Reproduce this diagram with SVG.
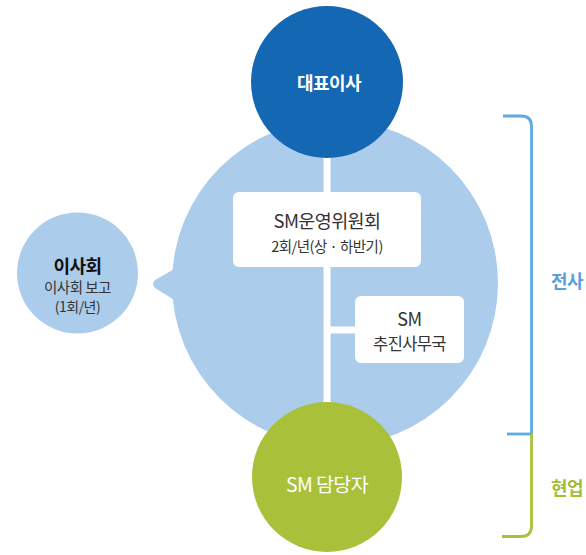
<svg xmlns="http://www.w3.org/2000/svg" width="586" height="555" viewBox="0 0 586 555">
<style>
text{font-family:"Noto Sans CJK KR","Noto Sans",sans-serif;text-anchor:middle}
.box{fill:#ffffff}
.dark{fill:#333333}
.wt{fill:#ffffff}
.conn{stroke:#ffffff;stroke-width:7;fill:none}
.bl{stroke:#5eabe3;stroke-width:2.8;fill:none}
.gl{stroke:#a9c13a;stroke-width:2.8;fill:none}
</style>
<rect width="586" height="555" fill="#ffffff"/>
<g id="company-area">
<circle cx="335" cy="283" r="163" fill="#abcdeb"/>
<path d="M176 268 L155 280 Q151 284 155 288 L176 301 Z" fill="#abcdeb"/>
</g>
<g id="connectors">
<line class="conn" x1="327" y1="150" x2="327" y2="410"/>
<line class="conn" x1="327" y1="330" x2="358" y2="330"/>
</g>
<g id="sm-committee">
<rect class="box" x="233" y="192" width="188" height="75" rx="6"/>
<text x="327" y="228" font-size="18.5" letter-spacing="-0.6" class="dark">SM운영위원회</text>
<text x="327" y="252" font-size="14.5" letter-spacing="-0.5" class="dark">2회/년(상 · 하반기)</text>
</g>
<g id="sm-office">
<rect class="box" x="355" y="296" width="109" height="67" rx="6"/>
<text x="409.5" y="326" font-size="18" letter-spacing="-0.5" class="dark">SM</text>
<text x="409.5" y="350" font-size="16.5" letter-spacing="-0.6" class="dark">추진사무국</text>
</g>
<g id="ceo">
<circle cx="327" cy="82" r="76" fill="#1467b3"/>
<text x="329" y="90" font-size="18" letter-spacing="-0.5" font-weight="bold" class="wt">대표이사</text>
</g>
<g id="sm-manager">
<circle cx="327" cy="477" r="75" fill="#a9c13a"/>
<text x="327" y="492" font-size="19.5" letter-spacing="-0.6" class="wt">SM 담당자</text>
</g>
<g id="board">
<circle cx="77.5" cy="273" r="60.5" fill="#abcdeb"/>
<text x="77.5" y="273" font-size="18" letter-spacing="-0.5" font-weight="bold" fill="#111111">이사회</text>
<text x="77.5" y="293" font-size="14.5" letter-spacing="-0.5" class="dark">이사회 보고</text>
<text x="77.5" y="312" font-size="14" letter-spacing="-0.5" class="dark">(1회/년)</text>
</g>
<g id="bracket">
<path class="bl" d="M503 116 L521 116 Q531.5 116 531.5 126 L531.5 434"/>
<line class="bl" x1="507" y1="434" x2="531.5" y2="434"/>
<path class="gl" d="M531.5 434 L531.5 526 Q531.5 536.5 521 536.5 L502 536.5"/>
<text x="567" y="288" font-size="18" letter-spacing="-0.5" font-weight="bold" fill="#5a9fd8">전사</text>
<text x="567" y="495" font-size="18" letter-spacing="-0.5" font-weight="bold" fill="#a3bd3a">현업</text>
</g>
</svg>
